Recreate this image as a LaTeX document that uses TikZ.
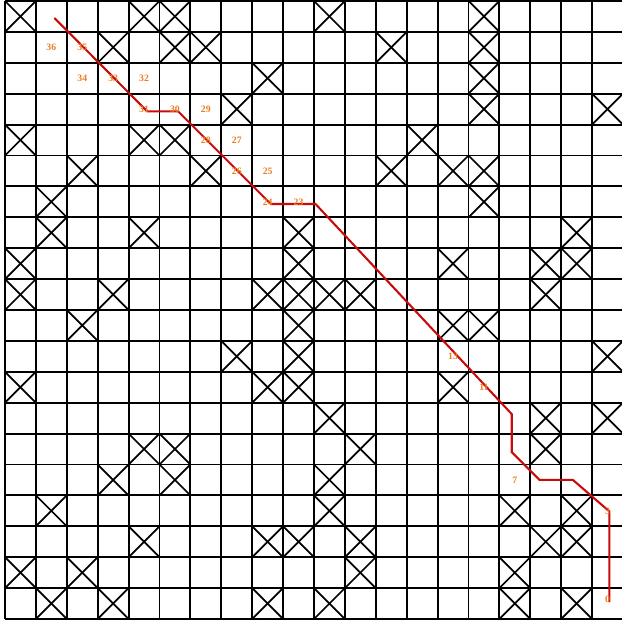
\documentclass[tikz,border=0pt]{standalone}
\usepackage{fontspec}
\setmainfont{Liberation Serif}
\usepackage{tikz}

\definecolor{pathred}{RGB}{200,10,10}
\definecolor{steporange}{RGB}{235,125,35}

\tikzset{
  gridline/.style={line width=1.7pt, black},
  crossline/.style={line width=1.6pt, black},
  pathline/.style={line width=1.9pt, pathred},
  steplabel/.style={inner sep=0pt, text=steporange, font=\small\bfseries}
}

\begin{document}
\begin{tikzpicture}
%%%%%%%%%%%%%%%%%%%
% page frame
\useasboundingbox (-0.162,0.032) rectangle (19.935,-20.162);

%%%%%%%%%%%%%%%%%%%
% The grid
\draw [gridline] (0,0) grid (20,-20);

%%%%%%%%%%%%%%%%%%%
% BLOCKED CELLS (column/row)
\foreach \c/\r in {0/0,4/0,5/0,10/0,15/0,
                   3/1,5/1,6/1,12/1,15/1,
                   8/2,15/2,
                   7/3,15/3,19/3,
                   0/4,4/4,5/4,13/4,
                   2/5,6/5,12/5,14/5,15/5,
                   1/6,15/6,
                   1/7,4/7,9/7,18/7,
                   0/8,9/8,14/8,17/8,18/8,
                   0/9,3/9,8/9,9/9,10/9,11/9,17/9,
                   2/10,9/10,14/10,15/10,
                   7/11,9/11,19/11,
                   0/12,8/12,9/12,14/12,
                   10/13,17/13,19/13,
                   4/14,5/14,11/14,17/14,
                   3/15,5/15,10/15,
                   1/16,10/16,16/16,18/16,
                   4/17,8/17,9/17,11/17,17/17,18/17,
                   0/18,2/18,11/18,16/18,
                   1/19,3/19,8/19,10/19,16/19,18/19}
{
  \draw [crossline] (\c,-\r) -- (\c+1,-\r-1);
  \draw [crossline] (\c+1,-\r) -- (\c,-\r-1);
}

%%%%%%%%%%%%%%%%%%%
% THE ROUTE
\draw [pathline] (1.6,-0.55) -- (4.6,-3.57) -- (5.6,-3.57) -- (8.6,-6.57)
  -- (10.05,-6.57) -- (16.4,-13.37) -- (16.4,-14.6) -- (17.3,-15.5)
  -- (18.38,-15.5) -- (19.56,-16.52) -- (19.56,-19.45);

%%%%%%%%%%%%%%%%%%%
% step numbers (number/column/row)
\foreach \n/\c/\r in {36/1/1,35/2/1,34/2/2,33/3/2,32/4/2,31/4/3,30/5/3,
                      29/6/3,28/6/4,27/7/4,26/7/5,25/8/5,24/8/6,23/9/6,
                      13/14/11,11/15/12,7/16/15,3/19/16}
  \node [steplabel] (s\n) at (\c+0.5,-\r-0.5) {\n};
\node [steplabel] (s0) at (19.5,-19.36) {0};

\end{tikzpicture}
\end{document}
